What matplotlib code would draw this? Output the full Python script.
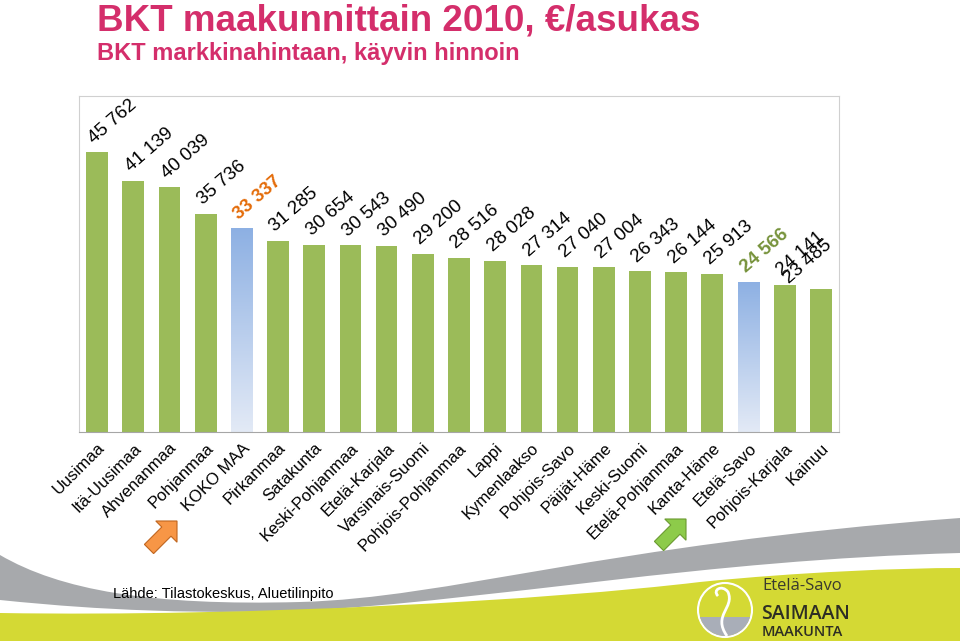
import matplotlib
matplotlib.use("Agg")
import matplotlib.pyplot as plt
import numpy as np
from matplotlib.patches import Rectangle, PathPatch, FancyArrow, Circle
from matplotlib.path import Path
from matplotlib.colors import LinearSegmentedColormap

plt.rcParams['font.family'] = ['Liberation Sans', 'DejaVu Sans']

regions = ["Uusimaa", "Itä-Uusimaa", "Ahvenanmaa", "Pohjanmaa", "KOKO MAA",
           "Pirkanmaa", "Satakunta", "Keski-Pohjanmaa", "Etelä-Karjala",
           "Varsinais-Suomi", "Pohjois-Pohjanmaa", "Lappi", "Kymenlaakso",
           "Pohjois-Savo", "Päijät-Häme", "Keski-Suomi", "Etelä-Pohjanmaa",
           "Kanta-Häme", "Etelä-Savo", "Pohjois-Karjala", "Kainuu"]
gdp = [45762, 41139, 40039, 35736, 33337, 31285, 30654, 30543, 30490,
       29200, 28516, 28028, 27314, 27040, 27004, 26343, 26144, 25913,
       24566, 24141, 23485]
highlight = {"KOKO MAA": "#E46C0A", "Etelä-Savo": "#77933C"}

GREEN = "#9BBB59"
PINK = "#D42E6B"


def fmt(v):
    return f"{v:,}".replace(",", " ")


fig = plt.figure(figsize=(9.6, 6.41), dpi=100)

# background decoration in pixel coordinates
bg = fig.add_axes([0, 0, 1, 1], zorder=0)
bg.set_xlim(0, 960)
bg.set_ylim(641, 0)
bg.axis("off")

C4 = Path.CURVE4
gray_verts = [(0, 555), (60, 590), (150, 606), (300, 602),
              (450, 598), (600, 545), (960, 518),
              (960, 553),
              (700, 560), (500, 600), (300, 611),
              (150, 615), (50, 605), (0, 600),
              (0, 555)]
gray_codes = [Path.MOVETO, C4, C4, C4, C4, C4, C4, Path.LINETO,
              C4, C4, C4, C4, C4, C4, Path.CLOSEPOLY]
bg.add_patch(PathPatch(Path(gray_verts, gray_codes), fc="#A7A9AC", ec="none"))

yel_verts = [(0, 613), (250, 617), (550, 600), (700, 582),
             (800, 572), (900, 568), (960, 568),
             (960, 641), (0, 641), (0, 613)]
yel_codes = [Path.MOVETO, C4, C4, C4, C4, C4, C4,
             Path.LINETO, Path.LINETO, Path.CLOSEPOLY]
bg.add_patch(PathPatch(Path(yel_verts, yel_codes), fc="#D4D934", ec="none"))

# logo
bg.add_patch(Circle((725, 610), 27, fc="none", ec="white", lw=1.5))
water = Rectangle((695, 617), 60, 25, fc="#A9AEB8", ec="none")
water.set_clip_path(Circle((725, 610), 26, transform=bg.transData))
bg.add_patch(water)
swirl = Path([(727, 636), (712, 615), (735, 608), (728, 592),
              (722, 584), (712, 590), (718, 596)],
             [Path.MOVETO, C4, C4, C4, C4, C4, C4])
bg.add_patch(PathPatch(swirl, fc="none", ec="white", lw=2))
logo_font = ["Open Sans", "DejaVu Sans"]
bg.text(762, 590, "Etelä-Savo", fontsize=12, color="#3A3A2E", family=logo_font)
bg.text(761, 619, "SAIMAAN", fontsize=14, color="#2E2E24", family=logo_font,
        fontweight="semibold")
bg.text(762, 636, "MAAKUNTA", fontsize=10.5, color="#2E2E24", family=logo_font,
        fontweight="semibold")

# arrows
bg.add_patch(FancyArrow(149, 549, 28, -28, width=13, head_width=30,
                        head_length=15, length_includes_head=True,
                        fc="#F79646", ec="#C0651E", lw=0.8))
bg.add_patch(FancyArrow(659, 546, 27, -27, width=13, head_width=30,
                        head_length=15, length_includes_head=True,
                        fc="#8DCB4A", ec="#6A9A30", lw=0.8))

# titles
fig.text(97 / 960, 1 - 30 / 641, "BKT maakunnittain 2010, €/asukas",
         fontsize=26.5, fontweight="bold", color=PINK, va="baseline")
fig.text(97 / 960, 1 - 60 / 641, "BKT markkinahintaan, käyvin hinnoin",
         fontsize=17, fontweight="bold", color=PINK, va="baseline")
fig.text(113 / 960, 1 - 598 / 641, "Lähde: Tilastokeskus, Aluetilinpito",
         fontsize=10.5, color="black", va="baseline")

# main chart
ax = fig.add_axes([79 / 960, 1 - 432 / 641, 760 / 960, 336 / 641], zorder=1)
x = np.arange(len(regions))
ax.set_xlim(-0.5, len(regions) - 0.5)
ax.set_ylim(0, 55000)

grad = np.linspace(0, 1, 256).reshape(-1, 1)
blue_cmap = LinearSegmentedColormap.from_list("b", ["#E3EAF6", "#8DB0E3"])

bars = ax.bar(x, gdp, width=0.6, color=GREEN, zorder=2)
for r, b in zip(regions, bars):
    if r in highlight:
        b.set_facecolor("none")
        im = ax.imshow(grad, cmap=blue_cmap, aspect="auto", origin="lower",
                       extent=[b.get_x(), b.get_x() + b.get_width(), 0, b.get_height()],
                       zorder=2)
        im.set_clip_path(b)

label_dx = {20: -0.8}
label_dy = {20: -600}
for i, (r, v) in enumerate(zip(regions, gdp)):
    col = highlight.get(r, "black")
    w = "bold" if r in highlight else "normal"
    ax.text(i + 0.0 + label_dx.get(i, 0), v + 900 + label_dy.get(i, 0), fmt(v),
            rotation=41, rotation_mode="anchor", ha="left", va="bottom",
            fontsize=13.5, color=col, fontweight=w, zorder=3)

ax.set_xticks(x)
ax.set_xticklabels(regions, rotation=45, rotation_mode="anchor", ha="right",
                   fontsize=12)
ax.tick_params(axis="x", length=0, pad=6)
ax.set_yticks([])
for s in ["top", "right", "left"]:
    ax.spines[s].set_color("#D0D0D0")
ax.spines["bottom"].set_color("#A6A6A6")

fig.savefig("out.png", dpi=100)
